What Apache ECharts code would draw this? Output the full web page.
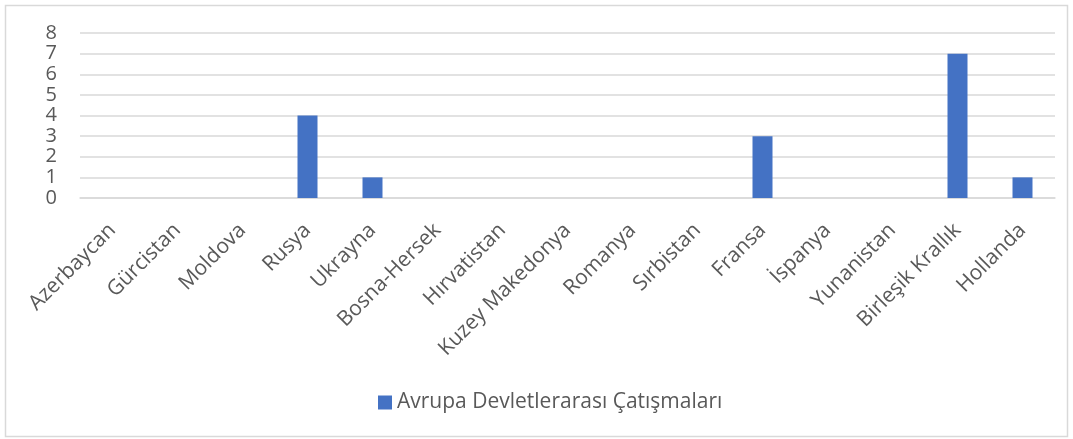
<!DOCTYPE html>
<html>
<head>
<meta charset="utf-8">
<script src="https://cdn.jsdelivr.net/npm/echarts@6/dist/echarts.min.js"></script>
<style>
  html, body { margin: 0; padding: 0; background: #fff; }
  #main { width: 1073px; height: 439px; }
</style>
</head>
<body>
<div id="main"></div>
<script>
var chartDom = document.getElementById('main');
var myChart = echarts.init(chartDom);
var option;

const countries = ['Azerbaycan', 'Gürcistan', 'Moldova', 'Rusya', 'Ukrayna', 'Bosna-Hersek',
  'Hırvatistan', 'Kuzey Makedonya', 'Romanya', 'Sırbistan', 'Fransa', 'İspanya',
  'Yunanistan', 'Birleşik Krallık', 'Hollanda'];
const conflicts = [0, 0, 0, 4, 1, 0, 0, 0, 0, 0, 3, 0, 0, 7, 1];
const seriesName = 'Avrupa Devletlerarası Çatışmaları';

const font = '"Open Sans", "DejaVu Sans", sans-serif';

option = {
  animation: false,
  textStyle: { fontFamily: font },
  graphic: [{
    type: 'rect',
    shape: { x: 5.5, y: 5.5, width: 1062, height: 431 },
    style: { fill: 'none', stroke: '#d9d9d9', lineWidth: 1.5 },
    silent: true
  }],
  legend: {
    bottom: 21,
    left: 373,
    itemWidth: 14,
    itemHeight: 14,
    itemGap: 6,
    icon: 'rect',
    textStyle: { color: '#595959', fontSize: 21, fontFamily: font }
  },
  grid: {
    left: 80,
    right: 18,
    top: 33,
    bottom: 241,
    containLabel: false
  },
  xAxis: {
    type: 'category',
    data: countries,
    axisLine: { lineStyle: { color: '#d9d9d9', width: 1.5 } },
    axisTick: { show: false },
    axisLabel: {
      interval: 0,
      rotate: 45,
      margin: 29,
      color: '#595959',
      fontSize: 21,
      fontFamily: font
    }
  },
  yAxis: {
    type: 'value',
    min: 0,
    max: 8,
    interval: 1,
    axisLine: { show: false },
    axisTick: { show: false },
    splitLine: { lineStyle: { color: '#d9d9d9', width: 1.5 } },
    axisLabel: {
      margin: 23,
      color: '#595959',
      fontSize: 20,
      fontFamily: font,
      showMinLabel: true,
      showMaxLabel: true,
      hideOverlap: false
    }
  },
  series: [{
    name: seriesName,
    type: 'bar',
    data: conflicts,
    barWidth: 20,
    itemStyle: { color: '#4472c4' }
  }]
};

option && myChart.setOption(option);

window.onresize = function() {
  myChart.resize();
};
</script>
</body>
</html>
